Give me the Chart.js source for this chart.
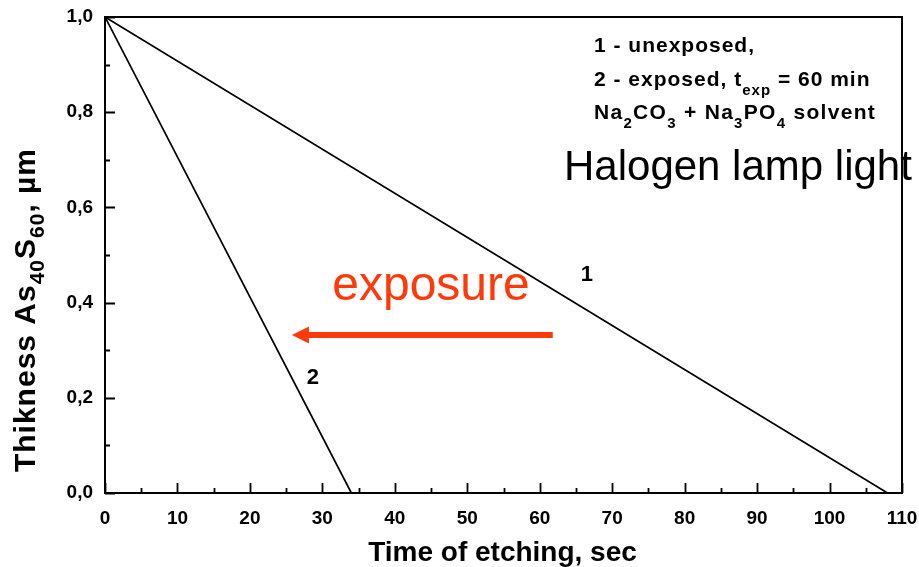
<!DOCTYPE html>
<html>
<head>
<meta charset="utf-8">
<script src="https://cdn.jsdelivr.net/npm/chart.js@4.4.1/dist/chart.umd.min.js"></script>
<style>
  html, body { margin: 0; padding: 0; background: #fff; }
  #wrap { width: 919px; height: 567px; position: relative; }
</style>
</head>
<body>
<div id="wrap"><canvas id="c" width="919" height="567"></canvas></div>
<script>
// Etching time (sec) and film thickness (µm) for both samples
const timeUnexposed = [0, 108];
const thickUnexposed = [1.0, 0.0];
const timeExposed = [0, 34];
const thickExposed = [1.0, 0.0];

// Axis ranges and tick steps
const xRange = [0, 110];
const yRange = [0, 1.0];
const xStep = 10;
const yStep = 0.2;

const FONT = '"Liberation Sans", Arial, Helvetica, sans-serif';
const RED = '#ff3a0a';

// Draw a sequence of [text, font, dy] runs left to right
function drawRuns(ctx, runs, x0, yBase, spacing) {
  let cx = x0;
  runs.forEach(p => {
    ctx.font = p[1];
    ctx.letterSpacing = spacing + 'px';
    ctx.fillText(p[0], cx, yBase + p[2]);
    cx += ctx.measureText(p[0]).width;
  });
  ctx.letterSpacing = '0px';
  return cx - x0;
}
function runsWidth(ctx, runs, spacing) {
  let w = 0;
  runs.forEach(p => {
    ctx.font = p[1];
    ctx.letterSpacing = spacing + 'px';
    w += ctx.measureText(p[0]).width;
  });
  ctx.letterSpacing = '0px';
  return w;
}

// Axis frame with inward major/minor ticks, plus titles and annotations
const framePlugin = {
  id: 'frame',
  afterDraw(chart) {
    const { ctx, chartArea: a, scales: { x, y } } = chart;
    ctx.save();
    ctx.strokeStyle = '#000';
    ctx.lineWidth = 2;
    ctx.strokeRect(a.left, a.top, a.right - a.left, a.bottom - a.top);

    ctx.lineWidth = 1.8;
    ctx.beginPath();
    for (let v = xRange[0]; v <= xRange[1] + 1e-9; v += xStep / 2) {
      const px = Math.round(x.getPixelForValue(v)) + 0.5;
      const major = Math.abs(v / xStep - Math.round(v / xStep)) < 1e-6;
      const len = major ? 10 : 5;
      ctx.moveTo(px, a.bottom);
      ctx.lineTo(px, a.bottom - len);
    }
    for (let i = 0; i <= 10; i++) {
      const v = i * yStep / 2;
      const py = Math.round(y.getPixelForValue(v)) + 0.5;
      const len = i % 2 === 0 ? 10 : 5;
      ctx.moveTo(a.left, py);
      ctx.lineTo(a.left + len, py);
    }
    ctx.stroke();

    ctx.fillStyle = '#000';
    ctx.textBaseline = 'alphabetic';

    // X axis title
    ctx.font = 'bold 28px ' + FONT;
    ctx.textAlign = 'center';
    ctx.fillText('Time of etching, sec', (a.left + a.right) / 2 - 1, 561);
    ctx.textAlign = 'left';

    // Y axis title with subscripts, rotated
    ctx.save();
    ctx.translate(35, 310);
    ctx.rotate(-Math.PI / 2);
    const M = 'bold 30px ' + FONT, s = 'bold 21px ' + FONT;
    const yTitle = [['Thikness As', M, 0], ['40', s, 9], ['S', M, 0], ['60', s, 9], [', \u00b5m', M, 0]];
    const tw = runsWidth(ctx, yTitle, 1);
    drawRuns(ctx, yTitle, -tw / 2, 0, 1);
    ctx.restore();

    // Sample description block
    const B = 'bold 21px ' + FONT, S = 'bold 15px ' + FONT;
    drawRuns(ctx, [['1 - unexposed,', B, 0]], 594, 52, 1);
    drawRuns(ctx, [['2 - exposed, t', B, 0], ['exp', S, 9], [' = 60 min', B, 0]], 594, 86, 1);
    drawRuns(ctx, [['Na', B, 0], ['2', S, 9], ['CO', B, 0], ['3', S, 9], [' + Na', B, 0], ['3', S, 9], ['PO', B, 0], ['4', S, 9], [' solvent', B, 0]], 594, 119, 1.3);

    ctx.font = '42px ' + FONT;
    ctx.fillText('Halogen lamp light', 564, 180);

    // Curve labels
    ctx.font = 'bold 22px ' + FONT;
    ctx.textAlign = 'center';
    ctx.textBaseline = 'middle';
    ctx.fillText('1', x.getPixelForValue(66.5), y.getPixelForValue(0.458));
    ctx.fillText('2', x.getPixelForValue(28.7), y.getPixelForValue(0.241));

    // Exposure arrow
    ctx.fillStyle = RED;
    ctx.strokeStyle = RED;
    ctx.font = '48px ' + FONT;
    ctx.textBaseline = 'alphabetic';
    ctx.fillText('exposure', 431, 300);
    const ay = y.getPixelForValue(0.332);
    const ax0 = x.getPixelForValue(61.8), ax1 = x.getPixelForValue(25.8);
    ctx.lineWidth = 6;
    ctx.beginPath();
    ctx.moveTo(ax0, ay);
    ctx.lineTo(ax1 + 12, ay);
    ctx.stroke();
    ctx.beginPath();
    ctx.moveTo(ax1, ay);
    ctx.lineTo(ax1 + 17, ay - 8.5);
    ctx.lineTo(ax1 + 17, ay + 8.5);
    ctx.closePath();
    ctx.fill();
    ctx.restore();
  }
};

const toPts = (xs, ys) => xs.map((v, i) => ({ x: v, y: ys[i] }));

new Chart(document.getElementById('c'), {
  type: 'scatter',
  data: {
    datasets: [
      { label: '1', data: toPts(timeUnexposed, thickUnexposed), showLine: true,
        borderColor: '#000', borderWidth: 1.7, pointRadius: 0, tension: 0 },
      { label: '2', data: toPts(timeExposed, thickExposed), showLine: true,
        borderColor: '#000', borderWidth: 1.7, pointRadius: 0, tension: 0 }
    ]
  },
  options: {
    responsive: false,
    animation: false,
    layout: { padding: { top: 17, right: 17, left: 0, bottom: 0 } },
    plugins: { legend: { display: false }, tooltip: { enabled: false } },
    scales: {
      x: {
        type: 'linear', min: xRange[0], max: xRange[1],
        grid: { display: false, drawTicks: false },
        border: { display: false },
        ticks: { stepSize: xStep, padding: 14, color: '#000', maxRotation: 0,
                 font: { family: FONT, size: 19, weight: 'bold' } },
        afterFit(sc) { sc.height = 74; sc.paddingLeft = 0; sc.paddingRight = 0; }
      },
      y: {
        type: 'linear', min: yRange[0], max: yRange[1],
        grid: { display: false, drawTicks: false },
        border: { display: false },
        ticks: { stepSize: yStep, padding: 12, color: '#000',
                 font: { family: FONT, size: 19, weight: 'bold' },
                 callback: v => v.toFixed(1).replace('.', ',') },
        afterFit(sc) { sc.width = 105; sc.paddingTop = 0; sc.paddingBottom = 0; }
      }
    }
  },
  plugins: [framePlugin]
});
</script>
</body>
</html>
